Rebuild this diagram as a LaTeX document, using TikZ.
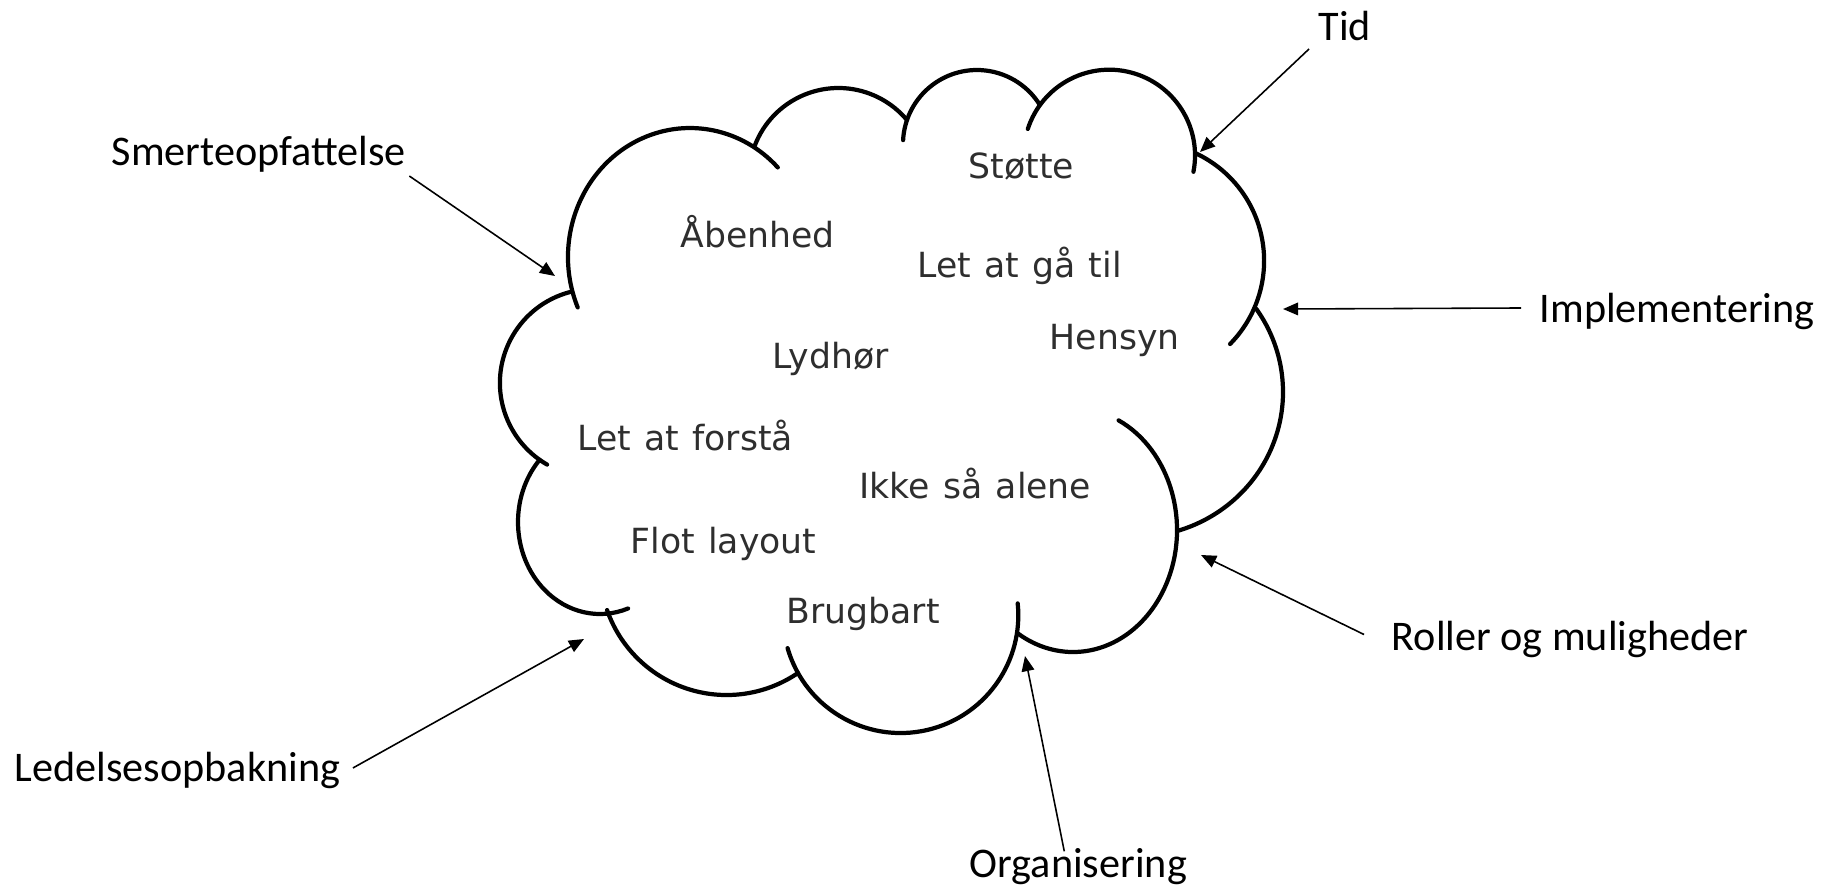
\documentclass[tikz,border=0pt]{standalone}
\usepackage{fontspec}
\setmainfont{Carlito}
\newfontfamily\wordfont{DejaVu Sans}[WordSpace=1.2]
\usetikzlibrary{arrows.meta}
\definecolor{wordgray}{HTML}{2E2E2E}

% one bump of the cloud: centre x, centre y, x radius, y radius, start, end
\NewDocumentCommand{\cloudarc}{mmmmmm}{%
\draw[cloudline] ([shift={(#1,#2)}]#5:#3 and #4) arc[start angle=#5, end angle=#6, x radius=#3, y radius=#4];%
}

\begin{document}
\begin{tikzpicture}[x=0.01cm, y=-0.01cm,
    cloudline/.style={line width=1.2pt, line cap=round},
    word/.style={font=\wordfont\fontsize{9.85pt}{12pt}\selectfont, text=wordgray, inner sep=0pt, anchor=base west},
    outside/.style={font=\fontsize{12pt}{14pt}\selectfont, inner sep=0pt, anchor=base west},
    pointer/.style={line width=0.45pt, -{Triangle[length=4.3pt, width=3.6pt]}}]
    \useasboundingbox (0,0) rectangle (1828,887);

    % the cloud, clockwise from the top left
    \cloudarc{690}{257}{122}{129}{157}{316}
    \cloudarc{838.4}{177.5}{89.5}{89.5}{201}{320}
    \cloudarc{977}{144}{74}{74}{183}{328}
    \cloudarc{1109.3}{155.4}{85.7}{85.7}{198}{371}
    \cloudarc{1145.4}{260.8}{118.7}{118.7}{-65.3}{44.5}
    \cloudarc{1135}{392}{148}{145}{-35}{73}
    \cloudarc{1073}{530}{104}{122}{-64}{121.6}
    \cloudarc{900.6}{615.3}{117.7}{117.7}{163.8}{-5.8}
    \cloudarc{726.6}{568.4}{126.6}{126.6}{160.8}{55.7}
    \cloudarc{600}{522}{82}{92}{222.6}{70}
    \cloudarc{594}{383}{94.1}{94.1}{255.2}{119.9}

    % words inside
    \foreach \name/\x/\y/\txt in {stotte/968/178/Støtte, aabenhed/680/247/Åbenhed,
        letgaa/917/277/Let at gå til, hensyn/1049/349/Hensyn, lydhor/772/368/Lydhør,
        letforsta/577/450/Let at forstå, alene/859/498/Ikke så alene,
        layout/630/553/Flot layout, brugbart/786/623/Brugbart}
        \node[word] (\name) at (\x,\y) {\txt};

    % labels outside
    \node[outside] (tid) at (1318,40) {Tid};
    \node[outside] (smerte) at (111,165.5) {Smerteopfattelse};
    \node[outside] (impl) at (1539,322) {Implementering};
    \node[outside] (roller) at (1391,650.5) {Roller og muligheder};
    \node[outside] (ledelse) at (14,781) {Ledelsesopbakning};
    \node[outside] (org) at (969,877) {Organisering};

    \coordinate (tidpil) at (1200,152);
    \coordinate (smertepil) at (555,276);
    \coordinate (implpil) at (1283,309);
    \coordinate (rollerpil) at (1201,555);
    \coordinate (ledelsepil) at (584,639);
    \coordinate (orgpil) at (1025,656);

    \draw[pointer] ([shift={(-9,8)}]tid.south west) -- (tidpil);
    \draw[pointer] ([shift={(3,3)}]smerte.south east) -- (smertepil);
    \draw[pointer] ([shift={(-18,-3)}]impl.west) -- (implpil);
    \draw[pointer] ([shift={(-27,-5)}]roller.west) -- (rollerpil);
    \draw[pointer] ([shift={(12,-2)}]ledelse.east) -- (ledelsepil);
    \draw[pointer] ([shift={(-14,4)}]org.north) -- (orgpil);
\end{tikzpicture}
\end{document}
